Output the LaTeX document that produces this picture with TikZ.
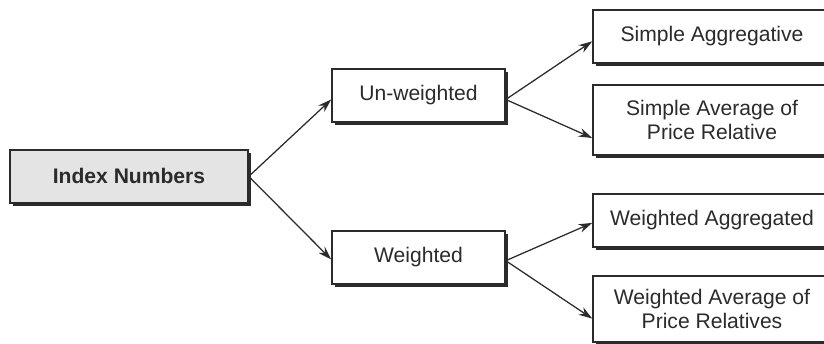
\documentclass[tikz,border=0pt]{standalone}
\usepackage{fontspec}
\setmainfont{Liberation Sans}
\usetikzlibrary{arrows.meta,shadows}
\definecolor{inkgray}{HTML}{2B2B2B}
\definecolor{boxgray}{HTML}{E4E4E4}
\begin{document}
\begin{tikzpicture}[x=1cm,y=1cm,
  box/.style={draw=inkgray,line width=1.1pt,fill=white,text=inkgray,inner sep=0pt,
    align=center,font=\fontsize{15}{17.5}\selectfont,
    drop shadow={shadow xshift=0.075cm,shadow yshift=-0.075cm,fill=inkgray,opacity=1}},
  link/.style={draw=inkgray,line width=0.9pt,-{Stealth[length=0.34cm,width=0.22cm]}}]
\clip (0,0) rectangle (20.6,8.6);

% root
\node[box,fill=boxgray,font=\fontsize{15}{17.5}\selectfont\bfseries,
  minimum width=5.95cm,minimum height=1.325cm] (idx) at (3.225,4.19) {Index Numbers};

% middle column
\node[box,minimum width=4.325cm,minimum height=1.325cm] (unw) at (10.4625,6.2125) {Un-weighted};
\node[box,minimum width=4.325cm,minimum height=1.325cm] (wtd) at (10.4625,2.1625) {Weighted};

% right column
\node[box,minimum width=5.95cm,minimum height=1.325cm] (sagg) at (17.8,7.6875) {Simple Aggregative};
\node[box,minimum width=5.95cm,minimum height=1.75cm] (savg) at (17.8,5.6) {Simple Average of\\Price Relative};
\node[box,minimum width=5.95cm,minimum height=1.325cm] (wagg) at (17.8,3.0875) {Weighted Aggregated};
\node[box,minimum width=5.95cm,minimum height=1.65cm] (wavg) at (17.8,0.875) {Weighted Average of\\Price Relatives};

\draw[link] (idx.east)--([yshift=-0.1cm]unw.west);
\draw[link] (idx.east)--([yshift=-0.05cm]wtd.west);
\draw[link] ([yshift=-0.1cm]unw.east)--([yshift=-0.12cm]sagg.west);
\draw[link] ([yshift=-0.1cm]unw.east)--([yshift=-0.45cm]savg.west);
\draw[link] ([yshift=-0.08cm]wtd.east)--([yshift=-0.06cm]wagg.west);
\draw[link] ([yshift=-0.08cm]wtd.east)--([yshift=-0.24cm]wavg.west);
\end{tikzpicture}
\end{document}
